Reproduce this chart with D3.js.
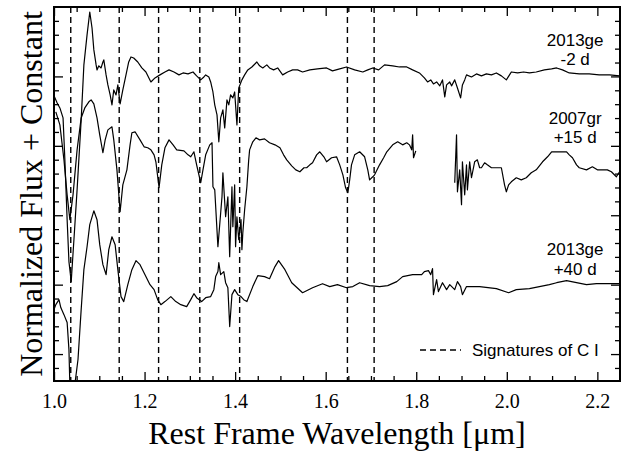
<!DOCTYPE html>
<html>
<head>
<meta charset="utf-8">
<script src="https://cdn.jsdelivr.net/npm/d3@7/dist/d3.min.js"></script>
<style>
  body { margin: 0; background: #fff; }
  .spec { fill: none; stroke: #000; stroke-width: 1.2; stroke-linejoin: round; }
  .cline { stroke: #000; stroke-width: 1.4; stroke-dasharray: 6,4; }
  .axis path { display: none; }
  .axis line { stroke: #000; stroke-width: 1.3; }
  .title { font-family: "Liberation Serif", "Times New Roman", serif; font-size: 32px; }
  .note { font-family: "Liberation Sans", Arial, sans-serif; font-size: 17px; }
</style>
</head>
<body>
<div id="chart"></div>
<script>
// 2013ge at -2 d (top spectrum)
var ge2Wave = [1.000,1.007,1.013,1.020,1.024,1.029,1.033,1.038,1.044,1.051,1.060,1.066,1.073,1.079,1.084,1.088,1.093,1.095,1.099,1.104,
  1.108,1.110,1.115,1.119,1.124,1.128,1.132,1.137,1.141,1.146,1.152,1.159,1.165,1.170,1.176,1.185,1.194,1.203,1.214,1.223,
  1.234,1.245,1.254,1.265,1.276,1.285,1.296,1.307,1.315,1.324,1.331,1.335,1.342,1.346,1.351,1.355,1.360,1.364,1.368,1.373,
  1.377,1.382,1.386,1.390,1.395,1.399,1.404,1.408,1.415,1.421,1.428,1.437,1.448,1.454,1.461,1.470,1.476,1.485,1.494,1.505,
  1.516,1.527,1.538,1.549,1.565,1.582,1.602,1.615,1.631,1.646,1.664,1.682,1.693,1.704,1.717,1.730,1.748,1.763,1.779,1.792,
  1.807,1.818,1.825,1.832,1.838,1.845,1.852,1.858,1.863,1.867,1.874,1.878,1.885,1.891,1.898,1.902,1.907,1.911,1.922,1.933,
  1.944,1.955,1.966,1.977,1.988,1.999,2.006,2.010,2.024,2.037,2.050,2.065,2.083,2.099,2.110,2.123,2.138,2.160,2.182,2.204,
  2.227,2.249];
var ge2Flux = [2.360,2.309,2.273,2.201,1.899,1.468,1.166,1.022,1.324,1.683,2.187,2.583,2.799,2.964,2.849,2.691,2.583,2.547,2.576,2.561,
  2.604,2.619,2.511,2.439,2.367,2.295,2.403,2.367,2.439,2.302,2.403,2.511,2.604,2.640,2.633,2.604,2.561,2.532,2.460,2.489,
  2.511,2.532,2.547,2.532,2.511,2.525,2.518,2.532,2.504,2.475,2.496,2.511,2.496,2.460,2.388,2.295,2.223,2.029,2.201,2.259,
  2.129,2.331,2.295,2.367,2.345,2.388,2.151,2.417,2.475,2.511,2.547,2.568,2.604,2.576,2.561,2.583,2.561,2.547,2.561,2.511,
  2.532,2.547,2.547,2.532,2.547,2.554,2.561,2.540,2.554,2.568,2.547,2.532,2.547,2.561,2.547,2.583,2.576,2.568,2.568,2.547,
  2.525,2.489,2.460,2.475,2.446,2.460,2.432,2.475,2.353,2.439,2.460,2.432,2.475,2.417,2.345,2.439,2.475,2.511,2.496,2.518,
  2.504,2.518,2.511,2.525,2.504,2.475,2.511,2.532,2.525,2.532,2.525,2.532,2.547,2.554,2.561,2.547,2.525,2.518,2.518,2.511,
  2.511,2.504];

// 2007gr at +15 d (middle spectrum), null marks the gap between bands
var gr15Wave = [1.004,1.013,1.022,1.029,1.035,1.042,1.051,1.060,1.068,1.077,1.082,1.088,1.095,1.101,1.108,1.113,1.119,1.128,1.132,1.139,
  1.146,1.152,1.161,1.168,1.172,1.179,1.190,1.199,1.207,1.214,1.221,1.225,1.232,1.238,1.245,1.254,1.263,1.271,1.287,1.296,
  1.302,1.309,1.315,1.324,1.329,1.335,1.344,1.349,1.351,1.355,1.362,1.371,1.373,1.379,1.384,1.388,1.393,1.395,1.399,1.401,
  1.404,1.408,1.413,1.415,1.417,1.421,1.426,1.430,1.432,1.439,1.446,1.454,1.465,1.476,1.488,1.499,1.507,1.514,1.525,1.534,
  1.543,1.552,1.558,1.565,1.571,1.580,1.587,1.596,1.602,1.613,1.624,1.631,1.638,1.644,1.649,1.653,1.657,1.664,1.675,1.686,
  1.693,1.697,1.704,1.708,1.719,1.728,1.735,1.748,1.759,1.770,1.779,1.785,1.790,1.792,1.794,1.799,1.840,
  1.885,1.889,1.891,1.896,1.900,1.902,1.907,1.911,1.913,1.918,1.922,1.929,1.935,1.940,1.944,1.951,1.957,1.966,1.977,1.988,
  1.995,1.999,2.004,2.010,2.021,2.032,2.043,2.054,2.065,2.079,2.090,2.099,2.107,2.121,2.132,2.138,2.145,2.154,2.160,2.176,
  2.189,2.200,2.211,2.222,2.231,2.242,2.249];
var gr15Flux = [2.245,2.151,1.899,1.647,1.468,1.647,1.971,2.201,2.273,2.317,2.331,2.302,2.201,2.079,1.950,2.043,2.115,2.137,2.043,1.827,
  1.525,1.719,1.827,2.007,2.094,2.101,2.043,1.993,1.986,1.971,1.935,1.885,1.698,1.863,1.986,2.043,2.007,1.971,1.964,1.935,
  1.921,1.957,1.863,1.734,1.827,1.935,2.007,2.022,1.705,1.683,1.273,1.633,1.806,1.489,1.633,1.201,1.705,1.417,1.719,1.273,
  1.489,1.324,1.468,1.252,1.374,1.540,1.705,1.899,1.971,2.029,2.058,2.043,2.050,2.022,2.007,1.986,1.935,1.899,1.856,1.827,
  1.813,1.842,1.842,1.863,1.878,1.935,1.957,1.921,1.885,1.914,1.921,1.863,1.791,1.698,1.662,1.755,1.863,1.935,1.957,1.921,
  1.827,1.755,1.777,1.791,1.863,1.914,1.957,2.007,2.029,2.007,2.022,2.007,1.971,2.079,1.914,1.964,null,
  1.734,2.079,1.669,1.827,1.576,1.885,1.647,1.863,1.683,1.885,1.770,1.885,1.899,1.842,1.842,1.878,1.863,1.842,1.842,1.842,
  1.719,1.669,1.719,1.741,1.770,1.755,1.770,1.806,1.827,1.885,1.921,1.957,1.957,1.957,1.957,1.935,1.914,1.863,1.842,1.827,
  1.849,1.827,1.827,1.827,1.813,1.777,1.813];

// 2013ge at +40 d (bottom spectrum)
var ge40Wave = [1.000,1.004,1.011,1.015,1.022,1.029,1.033,1.035,1.040,1.046,1.053,1.060,1.066,1.073,1.079,1.088,1.095,1.101,1.108,1.115,
  1.121,1.128,1.135,1.141,1.148,1.154,1.163,1.172,1.181,1.190,1.201,1.212,1.221,1.229,1.236,1.245,1.258,1.269,1.280,1.293,
  1.302,1.309,1.315,1.326,1.335,1.346,1.353,1.357,1.362,1.364,1.368,1.375,1.379,1.384,1.388,1.393,1.399,1.406,1.413,1.419,
  1.426,1.439,1.450,1.465,1.476,1.488,1.496,1.510,1.525,1.549,1.571,1.593,1.609,1.626,1.646,1.660,1.675,1.697,1.719,1.737,
  1.757,1.770,1.792,1.812,1.818,1.827,1.832,1.836,1.838,1.845,1.849,1.858,1.867,1.874,1.885,1.891,1.898,1.902,1.911,1.940,
  1.977,2.004,2.021,2.050,2.072,2.094,2.110,2.132,2.154,2.176,2.198,2.227,2.249];
var ge40Flux = [0.820,0.856,0.892,0.835,0.784,0.727,0.532,0.281,0.209,0.281,0.461,0.820,1.108,1.273,1.432,1.532,1.468,1.288,1.144,1.072,
  1.252,1.345,1.288,1.108,0.914,0.878,1.000,1.108,1.173,1.144,1.072,1.000,0.964,0.892,0.856,0.878,0.914,0.878,0.856,0.842,
  0.892,0.935,0.906,0.878,0.906,0.914,0.964,1.058,1.094,1.158,1.072,1.094,1.014,0.978,0.698,0.928,0.964,0.928,0.914,0.892,
  0.878,0.986,1.065,1.058,1.043,1.130,1.173,1.108,1.014,0.942,0.978,1.007,0.986,1.000,0.978,0.986,1.014,0.993,0.986,0.993,
  1.022,1.058,1.072,1.072,1.094,1.101,1.072,1.115,0.928,1.036,0.950,1.014,0.964,1.000,0.964,1.022,0.986,0.928,0.986,0.986,
  0.971,0.942,0.964,0.971,0.986,1.000,1.014,1.029,1.014,1.000,1.007,1.007,1.007];

// C I line positions (micron)
var carbonLines = [1.037, 1.144, 1.231, 1.322, 1.410, 1.648, 1.707];

var xTickLabels = [1.0, 1.2, 1.4, 1.6, 1.8, 2.0, 2.2];

var spectra = [
  {name: "2013ge", phase: "-2 d", wave: ge2Wave, flux: ge2Flux, labelY: [2.72, 2.583]},
  {name: "2007gr", phase: "+15 d", wave: gr15Wave, flux: gr15Flux, labelY: [2.155, 2.02]},
  {name: "2013ge", phase: "+40 d", wave: ge40Wave, flux: ge40Flux, labelY: [1.216, 1.072]}
];

var width = 636, height = 451;
var margin = {top: 7, right: 16, bottom: 70, left: 54};
var pw = width - margin.left - margin.right,
    ph = height - margin.top - margin.bottom;

var svg = d3.select('#chart').append('svg')
  .attr('width', width)
  .attr('height', height);

var g = svg.append('g')
  .attr('transform', 'translate(' + margin.left + ',' + margin.top + ')');

var x = d3.scaleLinear().domain([1.0, 2.25]).range([0, pw]);
var y = d3.scaleLinear().domain([0.306, 3.0]).range([ph, 0]);

g.append('clipPath').attr('id', 'plotclip')
  .append('rect').attr('width', pw).attr('height', ph);

// dashed C I markers
g.selectAll('.cline')
  .data(carbonLines)
  .enter().append('line')
  .attr('class', 'cline')
  .attr('x1', function(d) { return x(d); })
  .attr('x2', function(d) { return x(d); })
  .attr('y1', 0)
  .attr('y2', ph);

var line = d3.line()
  .defined(function(d) { return d[1] != null; })
  .x(function(d) { return x(d[0]); })
  .y(function(d) { return y(d[1]); });

g.append('g').attr('clip-path', 'url(#plotclip)')
  .selectAll('.spec')
  .data(spectra)
  .enter().append('path')
  .attr('class', 'spec')
  .attr('d', function(s) {
    return line(s.wave.map(function(w, i) { return [w, s.flux[i]]; }));
  });

// spectrum labels
spectra.forEach(function(s) {
  g.append('text').attr('class', 'note')
    .attr('x', x(2.151)).attr('y', y(s.labelY[0]))
    .attr('text-anchor', 'middle').text(s.name);
  g.append('text').attr('class', 'note')
    .attr('x', x(2.151)).attr('y', y(s.labelY[1]))
    .attr('text-anchor', 'middle').text(s.phase);
});

// axes: ticks point inward on all four sides
var xMinor = d3.range(1.05, 2.25, 0.05).filter(function(v) { return Math.abs(v * 5 - Math.round(v * 5)) > 0.01; });
var yMinor = d3.range(0.4, 3.0, 0.1).filter(function(v) { return Math.abs(v * 2 - Math.round(v * 2)) > 0.01; });
var yMajor = [0.5, 1.0, 1.5, 2.0, 2.5];

function addAxis(axisFn, scale, vals, size, transform, withLabels) {
  var a = axisFn(scale).tickValues(vals).tickSizeInner(-size).tickSizeOuter(0);
  if (!withLabels) a.tickFormat('');
  else a.tickFormat(d3.format('.1f')).tickPadding(13);
  var ax = g.append('g').attr('class', 'axis').attr('transform', transform).call(a);
  return ax;
}

var bx = addAxis(d3.axisBottom, x, xTickLabels, 9, 'translate(0,' + ph + ')', true);
bx.attr('font-family', null).attr('font-size', null);
bx.selectAll('text')
  .style('font-family', '"Liberation Serif", "Times New Roman", serif')
  .style('font-size', '20px')
  .attr('fill', '#000');
addAxis(d3.axisBottom, x, xMinor, 5, 'translate(0,' + ph + ')', false);
addAxis(d3.axisTop, x, xTickLabels, 9, 'translate(0,0)', false);
addAxis(d3.axisTop, x, xMinor, 5, 'translate(0,0)', false);
addAxis(d3.axisLeft, y, yMajor, 9, 'translate(0,0)', false);
addAxis(d3.axisLeft, y, yMinor, 5, 'translate(0,0)', false);
addAxis(d3.axisRight, y, yMajor, 9, 'translate(' + pw + ',0)', false);
addAxis(d3.axisRight, y, yMinor, 5, 'translate(' + pw + ',0)', false);

// frame
g.append('rect')
  .attr('width', pw).attr('height', ph)
  .attr('fill', 'none').attr('stroke', '#000').attr('stroke-width', 2);

// legend
g.append('line').attr('class', 'cline')
  .attr('x1', pw - 200).attr('x2', pw - 159)
  .attr('y1', 343).attr('y2', 343)
  .style('stroke-width', 1.3);
g.append('text').attr('class', 'note')
  .attr('x', pw - 148).attr('y', 349)
  .text('Signatures of C I');

// titles
svg.append('text').attr('class', 'title')
  .attr('x', margin.left + pw / 2).attr('y', 444)
  .attr('text-anchor', 'middle')
  .text('Rest Frame Wavelength [\u03bcm]');

svg.append('text').attr('class', 'title')
  .attr('transform', 'translate(42,' + (margin.top + ph / 2) + ') rotate(-90)')
  .attr('text-anchor', 'middle')
  .text('Normalized Flux + Constant');
</script>
</body>
</html>
